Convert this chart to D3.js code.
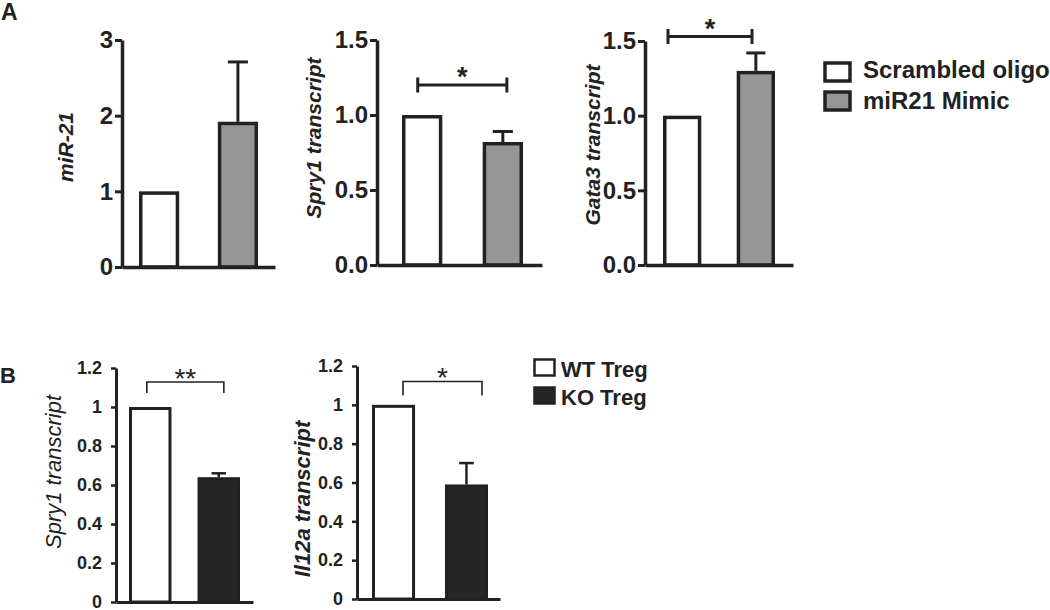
<!DOCTYPE html>
<html><head><meta charset="utf-8">
<script src="https://cdn.jsdelivr.net/npm/d3@7"></script>
<style>
body{margin:0;background:#fff}
svg{display:block}
text{font-family:"Liberation Sans",Arial,sans-serif;fill:#222}
</style>
</head><body>
<svg id="c" width="1050" height="610"></svg>
<script>
// ---------- data ----------
const groupsA = ["Scrambled oligo", "miR21 Mimic"];
const groupsB = ["WT Treg", "KO Treg"];

const mir21Mean = [1, 1.92];
const mir21Err  = [0, 0.79];
const spry1AMean = [1, 0.82];
const spry1AErr  = [0, 0.07];
const gata3Mean = [1, 1.30];
const gata3Err  = [0, 0.12];

const spry1BMean = [1, 0.64];
const spry1BErr  = [0, 0.02];
const il12aMean = [1, 0.59];
const il12aErr  = [0, 0.11];

const ticksMir = [0, 1, 2, 3];
const ticksA   = [0, 0.5, 1.0, 1.5];
const ticksB   = [0, 0.2, 0.4, 0.6, 0.8, 1.0, 1.2];

const sigLabels = ["", "*", "*", "**", "*"];
const sigLevels = [0, 1.2, 1.53, 1.128, 1.12];

// ---------- styles / layout ----------
const INK = "#222";
const fillsA = ["#ffffff", "#969696"];
const fillsB = ["#ffffff", "#262626"];

const styleA = {sw: 3.5, aw: 3.5, tw: 3, tickSize: 7, pad: 2, tickFont: 24, labFont: 21,
                brW: 3, brStyle: "capped", brTick: 7.5, starFont: 27, starW: "bold"};
const styleB = {sw: 3, aw: 3, tw: 2.5, tickSize: 5, pad: 9, tickFont: 18, labFont: 22,
                brW: 1.6, brStyle: "down", starFont: 28, starW: "normal"};

const panels = [
  {groups: groupsA, mean: mir21Mean, err: mir21Err, fills: fillsA, ticks: ticksMir, fmt: d3.format("d"), ymax: 3,
   ylab: "miR-21", labW: "bold", st: styleA,
   ax: 122, axEnd: 275, b0: 139, b1: 258, pi: 0.49, yb: 267, yt: 40, labX: 65, labY: 147, cap: 0.5},
  {groups: groupsA, mean: spry1AMean, err: spry1AErr, fills: fillsA, ticks: ticksA, fmt: d3.format(".1f"), ymax: 1.5,
   ylab: "Spry1 transcript", labW: "bold", st: styleA,
   ax: 377, axEnd: 542, b0: 402, b1: 523, pi: 0.5, yb: 265, yt: 40, labX: 313, labY: 138, cap: 0.5,
   sig: 1, f0: 0.39, f1: 0.6},
  {groups: groupsA, mean: gata3Mean, err: gata3Err, fills: fillsA, ticks: ticksA, fmt: d3.format(".1f"), ymax: 1.5,
   ylab: "Gata3 transcript", labW: "bold", st: styleA,
   ax: 645, axEnd: 793, b0: 663, b1: 775, pi: 0.48, yb: 265, yt: 41, labX: 592, labY: 145, cap: 0.5,
   sig: 2, f0: 0.13, f1: 0.4},
  {groups: groupsB, mean: spry1BMean, err: spry1BErr, fills: fillsB, ticks: ticksB, fmt: d3.format("~g"), ymax: 1.2,
   ylab: "Spry1 transcript", labW: "normal", st: styleB,
   ax: 116, axEnd: 253, b0: 129, b1: 240, pi: 0.38, yb: 602, yt: 368, labX: 53, labY: 472, cap: 0.34,
   sig: 3, f0: 0.42, f1: 0.62, brDrop: 11},
  {groups: groupsB, mean: il12aMean, err: il12aErr, fills: fillsB, ticks: ticksB, fmt: d3.format("~g"), ymax: 1.2,
   ylab: "Il12a transcript", labW: "bold", st: styleB,
   ax: 357, axEnd: 500, b0: 372, b1: 488, pi: 0.41, yb: 599, yt: 366, labX: 302, labY: 499, cap: 0.34,
   sig: 4, f0: 0.72, f1: 0.86, brDrop: 14}
];

const svg = d3.select("#c");

function drawPanel(p) {
  const st = p.st;
  const g = svg.append("g");
  const y = d3.scaleLinear().domain([0, p.ymax]).range([p.yb, p.yt]);
  const x = d3.scaleBand().domain(p.groups).range([p.b0, p.b1]).paddingInner(p.pi).paddingOuter(0);
  const xa = d3.scaleLinear().domain([0, 1]).range([p.ax, p.axEnd]);
  const bw = x.bandwidth();
  const rows = p.groups.map((name, i) => ({name, v: p.mean[i], e: p.err[i], fill: p.fills[i]}));

  // error bars (upper only)
  const eb = g.selectAll("g.err").data(rows.filter(d => d.e > 0)).join("g");
  eb.append("line")
    .attr("x1", d => x(d.name) + bw / 2).attr("x2", d => x(d.name) + bw / 2)
    .attr("y1", d => y(d.v)).attr("y2", d => y(d.v + d.e))
    .attr("stroke", INK).attr("stroke-width", st.tw);
  eb.append("line")
    .attr("x1", d => x(d.name) + bw / 2 - bw * p.cap / 2).attr("x2", d => x(d.name) + bw / 2 + bw * p.cap / 2)
    .attr("y1", d => y(d.v + d.e)).attr("y2", d => y(d.v + d.e))
    .attr("stroke", INK).attr("stroke-width", st.tw);

  // bars
  g.selectAll("rect.bar").data(rows).join("rect")
    .attr("class", "bar")
    .attr("x", d => x(d.name) + st.sw / 2)
    .attr("width", bw - st.sw)
    .attr("y", d => y(d.v) + st.sw / 2)
    .attr("height", d => y(0) - y(d.v) - st.sw / 2)
    .attr("fill", d => d.fill)
    .attr("stroke", INK).attr("stroke-width", st.sw);

  // y axis
  const yAxis = d3.axisLeft(y).tickValues(p.ticks).tickFormat(p.fmt)
    .tickSize(st.tickSize).tickPadding(st.pad).tickSizeOuter(0);
  const ya = g.append("g").attr("transform", `translate(${p.ax},0)`).call(yAxis);
  ya.select(".domain").attr("stroke", INK).attr("stroke-width", st.aw);
  ya.selectAll(".tick line").attr("stroke", INK).attr("stroke-width", st.tw);
  ya.selectAll(".tick text").attr("fill", INK)
    .style("font-size", st.tickFont + "px").style("font-weight", "bold")
    .style("font-family", '"Liberation Sans",Arial,sans-serif');

  // x axis (baseline only)
  const xaG = g.append("g").attr("transform", `translate(0,${p.yb})`)
    .call(d3.axisBottom(xa).tickValues([]).tickSizeOuter(0));
  xaG.select(".domain").attr("stroke", INK).attr("stroke-width", st.aw);

  // y label
  g.append("text")
    .attr("transform", `translate(${p.labX},${p.labY}) rotate(-90)`)
    .attr("text-anchor", "middle").attr("dominant-baseline", "central")
    .style("font-size", st.labFont + "px").style("font-style", "italic").style("font-weight", p.labW)
    .text(p.ylab);

  // significance bracket
  if (p.sig) {
    const xL = x(p.groups[0]) + bw * p.f0;
    const xR = x(p.groups[1]) + bw * p.f1;
    const yy = y(sigLevels[p.sig]);
    const br = g.append("g").attr("stroke", INK).attr("stroke-width", st.brW).attr("fill", "none");
    if (st.brStyle === "capped") {
      br.append("line").attr("x1", xL).attr("x2", xR).attr("y1", yy).attr("y2", yy);
      br.append("line").attr("x1", xL).attr("x2", xL).attr("y1", yy - st.brTick).attr("y2", yy + st.brTick);
      br.append("line").attr("x1", xR).attr("x2", xR).attr("y1", yy - st.brTick).attr("y2", yy + st.brTick);
    } else {
      br.append("path").attr("d", `M${xL},${yy + p.brDrop}V${yy}H${xR}V${yy + p.brDrop}`);
    }
    const starY = st.brStyle === "capped" ? yy - 14 : yy - 10;
    g.append("text")
      .attr("x", (xL + xR) / 2).attr("y", starY + 0.57 * st.starFont)
      .attr("text-anchor", "middle")
      .style("font-size", st.starFont + "px").style("font-weight", st.starW)
      .text(sigLabels[p.sig]);
  }
}

panels.forEach(drawPanel);

// panel letters
svg.append("text").attr("x", 1).attr("y", 20).style("font-size", "23px").style("font-weight", "bold").text("A");
svg.append("text").attr("x", 0).attr("y", 383).style("font-size", "22px").style("font-weight", "bold").text("B");

// legend A
const legA = svg.append("g");
groupsA.forEach((name, i) => {
  legA.append("rect").attr("x", 825).attr("y", 63 + i * 29).attr("width", 25).attr("height", 18)
    .attr("fill", fillsA[i]).attr("stroke", INK).attr("stroke-width", 3.5);
  legA.append("text").attr("x", 863).attr("y", 78 + i * 30.5)
    .style("font-size", "24px").style("font-weight", "bold").text(name);
});

// legend B
const legB = svg.append("g");
groupsB.forEach((name, i) => {
  legB.append("rect").attr("x", 534.5).attr("y", 359.5 + i * 28).attr("width", 20).attr("height", 16)
    .attr("fill", fillsB[i]).attr("stroke", INK).attr("stroke-width", 2.5);
  legB.append("text").attr("x", 561).attr("y", 377 + i * 28)
    .style("font-size", "22px").style("font-weight", "bold").text(name);
});
</script>
</body></html>
